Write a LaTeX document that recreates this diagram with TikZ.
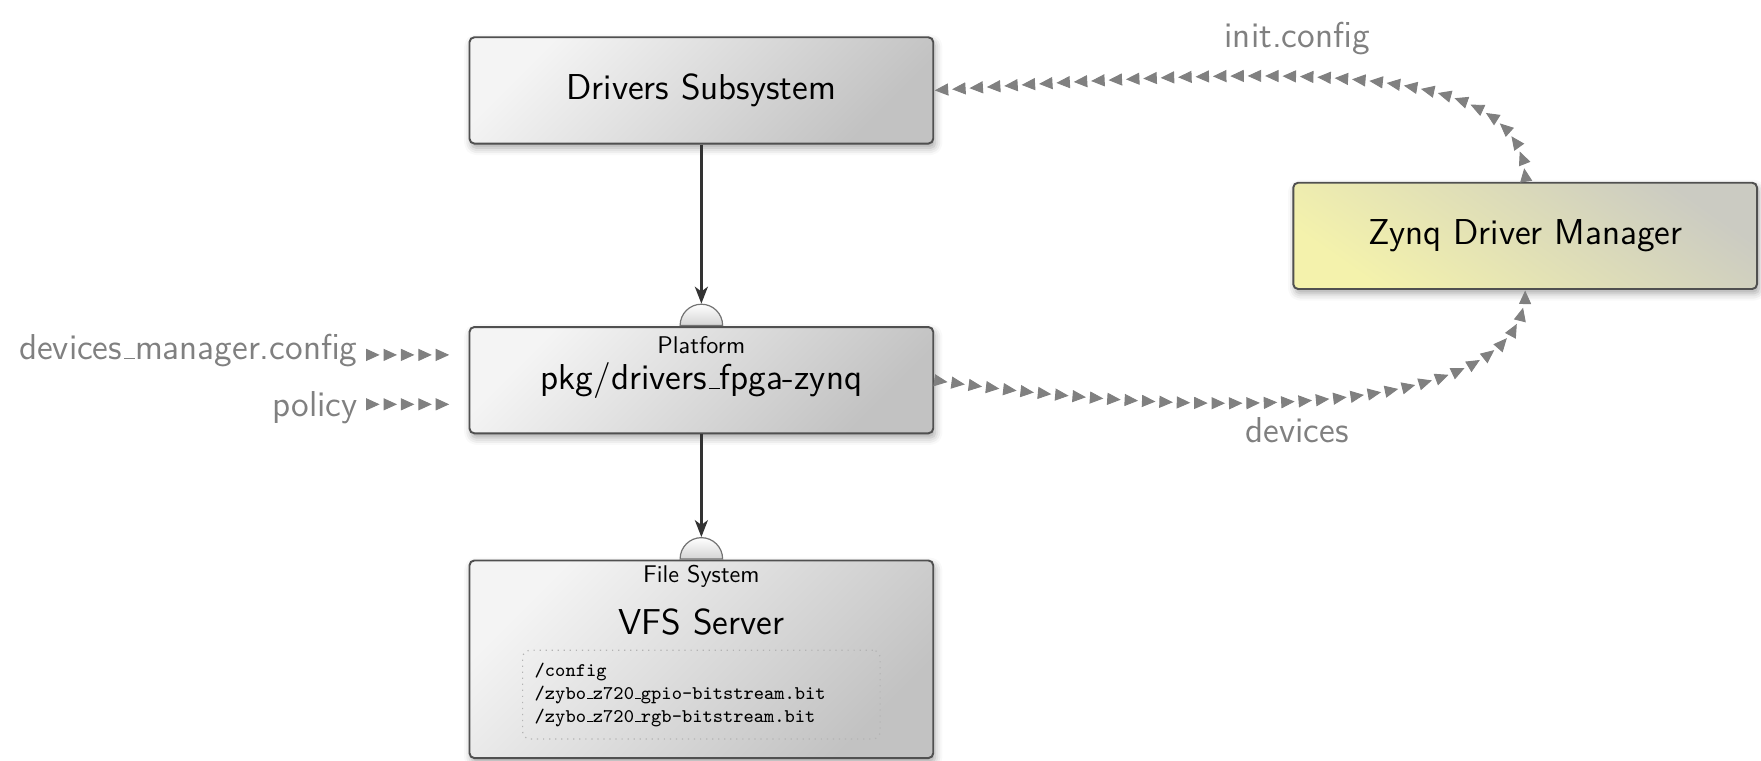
\documentclass[tikz,border=0pt]{standalone}
\usepackage{tikz}
\usetikzlibrary{arrows.meta,shapes.geometric,shadows.blur,decorations.markings}
\newcommand{\us}{\leavevmode\kern.06em\vbox{\hrule width.3em}}
\newcommand{\bigsf}{\sffamily\fontsize{14.9}{18}\selectfont}
\definecolor{boxline}{HTML}{505050}
\definecolor{boxlight}{HTML}{F4F4F4}
\definecolor{boxdark}{HTML}{C2C2C2}
\definecolor{mgrlight}{HTML}{F4F2AC}
\definecolor{mgrdark}{HTML}{CBCBC2}
\definecolor{flowgray}{HTML}{808080}
\definecolor{linkdark}{HTML}{333333}
\tikzstyle{block}=[rectangle,rounded corners=2pt,draw=boxline,line width=0.8pt,
                   minimum width=192pt,minimum height=44pt,
                   top color=boxlight,bottom color=boxdark,shading angle=45,
                   blur shadow={shadow xshift=0.8pt,shadow yshift=-1.8pt,
                                shadow blur radius=3pt,shadow opacity=35},
                   font=\bigsf]
\tikzstyle{mgrblock}=[block,top color=mgrdark,bottom color=mgrlight,shading angle=-35]
\tikzstyle{socket}=[semicircle,draw=boxline!80,line width=0.5pt,inner sep=0pt,
                    minimum width=17.6pt,minimum height=8.8pt,
                    top color=white,bottom color=boxdark!70,anchor=chord center]
\tikzstyle{kind}=[font=\sffamily\normalsize,inner sep=0pt]
\tikzstyle{flowlabel}=[font=\bigsf,text=flowgray]
\tikzstyle{files}=[rectangle,rounded corners=3pt,draw=flowgray!60,dotted,line width=0.5pt,
                   text width=138pt,inner xsep=5pt,minimum height=36.7pt,align=left,
                   font=\ttfamily\footnotesize]
\tikzstyle{link}=[draw=linkdark,line width=1pt,-{Stealth[length=7pt,width=5.4pt,inset=2pt]}]
\tikzstyle{flow}=[color=flowgray,postaction={decorate,decoration={markings,
                  mark=between positions 5.6pt and 1 step 7.2pt
                  with {\arrow{Triangle[length=5.6pt,width=5pt]}}}}]

\begin{document}
\begin{tikzpicture}[x=0.465pt,y=-0.465pt]
    \useasboundingbox (0,0) rectangle (1568,677);
    % components
    \node (drivers) at (624.5, 80.5) [block]{Drivers Subsystem};
    \node (plat)    at (624.5,338.5) [block]{pkg/drivers\us fpga-zynq};
    \node (vfs)     at (624.5,587)   [block,minimum height=81.8pt]{};
    \node (zynq)    at (1358, 210)   [mgrblock]{Zynq Driver Manager};
    \node (platkind) at (624.5,307)  [kind]{Platform};
    \node (vfskind)  at (624.5,513)  [kind]{File System};
    \node (vfsname)  at (624.5,554)  [font=\bigsf]{VFS Server};
    \node (vfsfiles) at (624.5,618.5) [files]{/config\\
      /zybo\us z720\us gpio-bitstream.bit\\
      /zybo\us z720\us rgb-bitstream.bit};
    % sockets
    \node (platsock) at (plat.north) [socket]{};
    \node (vfssock)  at (vfs.north)  [socket]{};
    \draw[link] (drivers) -- (platsock);
    \draw[link] (plat) -- (vfssock);
    % config inputs
    \node (dmcfg)  at (326,312) [flowlabel,anchor=east]{devices\us manager.config};
    \node (policy) at (326,363) [flowlabel,anchor=east]{policy};
    \coordinate (dmcfgin)  at (401,316);
    \coordinate (policyin) at (401,360);
    \path[flow] (dmcfg.east |- dmcfgin) -- (dmcfgin);
    \path[flow] (policy.east |- policyin) -- (policyin);
    % manager flows
    \path[flow] (zynq.north) .. controls (1358,50) and (1150,60) .. (drivers.east);
    \path[flow] (plat.east) .. controls (1050,370) and (1358,380) .. (zynq.south);
    \node (initcfg) at (1155,34)  [flowlabel]{init.config};
    \node (devs)    at (1155,383) [flowlabel]{devices};
  \end{tikzpicture}
\end{document}
